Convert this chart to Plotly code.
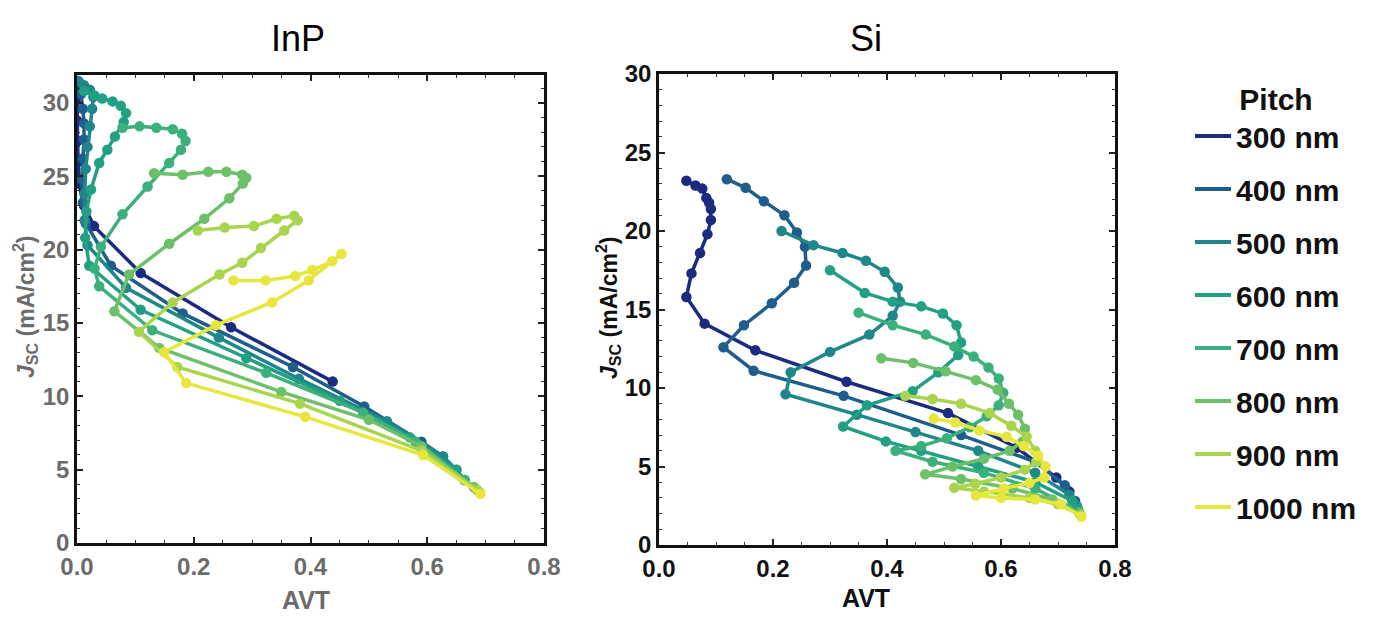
import plotly.graph_objects as go

pitches = ["300 nm", "400 nm", "500 nm", "600 nm", "700 nm", "800 nm", "900 nm", "1000 nm"]
colors = ["#1b2b80", "#1f5e8c", "#1f878a", "#22a083", "#3cb07c", "#6cc06a", "#a8d44e", "#e6e63c"]

# ---------------- InP (AVT, Jsc) ----------------
inp_300_x = [0.0, 0.0, 0.0, 0.001, 0.002, 0.003, 0.012, 0.029, 0.109, 0.264, 0.438]
inp_300_y = [31.3, 30.2, 28.8, 27.4, 26.0, 24.5, 23.0, 21.6, 18.4, 14.7, 11.0]

inp_400_x = [0.004, 0.007, 0.010, 0.012, 0.012, 0.010, 0.008, 0.010, 0.015, 0.058, 0.181, 0.370, 0.492, 0.590, 0.627]
inp_400_y = [31.4, 30.6, 29.6, 28.6, 27.5, 26.2, 24.8, 23.2, 21.8, 18.9, 15.65, 12.0, 9.3, 6.9, 5.9]

inp_500_x = [0.002, 0.012, 0.022, 0.028, 0.026, 0.022, 0.018, 0.015, 0.013, 0.013, 0.018, 0.084, 0.243, 0.380, 0.531, 0.627, 0.650]
inp_500_y = [31.5, 31.2, 30.9, 30.4, 29.6, 28.4, 27.0, 25.5, 23.8, 22.0, 20.3, 17.4, 14.0, 11.2, 8.3, 5.9, 5.0]

inp_600_x = [0.012, 0.030, 0.043, 0.061, 0.075, 0.084, 0.080, 0.065, 0.052, 0.038, 0.024, 0.016, 0.014, 0.021, 0.109, 0.290, 0.450, 0.570, 0.650, 0.664]
inp_600_y = [30.8, 30.5, 30.3, 30.1, 29.8, 29.3, 28.7, 27.7, 26.8, 25.9, 24.1, 22.6, 20.8, 18.9, 15.9, 12.6, 9.7, 7.2, 5.0, 4.3]

inp_700_x = [0.078, 0.107, 0.136, 0.164, 0.180, 0.186, 0.178, 0.158, 0.121, 0.078, 0.041, 0.030, 0.038, 0.129, 0.324, 0.490, 0.580, 0.664, 0.680]
inp_700_y = [28.3, 28.4, 28.3, 28.2, 27.9, 27.4, 26.8, 25.9, 24.3, 22.4, 20.2, 18.7, 17.5, 14.5, 11.6, 8.9, 6.9, 4.3, 3.8]

inp_800_x = [0.132, 0.181, 0.225, 0.256, 0.283, 0.290, 0.284, 0.261, 0.218, 0.158, 0.089, 0.064, 0.141, 0.350, 0.500, 0.590, 0.680, 0.686]
inp_800_y = [25.2, 25.1, 25.3, 25.3, 25.1, 24.9, 24.5, 23.5, 22.1, 20.4, 18.3, 15.8, 13.3, 10.3, 8.4, 6.6, 3.8, 3.6]

inp_900_x = [0.207, 0.253, 0.303, 0.342, 0.372, 0.378, 0.355, 0.315, 0.283, 0.244, 0.164, 0.106, 0.172, 0.382, 0.590, 0.686, 0.690]
inp_900_y = [21.3, 21.5, 21.6, 22.1, 22.3, 22.0, 21.3, 20.1, 19.1, 18.3, 16.4, 14.4, 12.0, 9.5, 6.3, 3.6, 3.45]

inp_1000_x = [0.268, 0.323, 0.374, 0.403, 0.437, 0.453, 0.397, 0.334, 0.238, 0.149, 0.187, 0.391, 0.593, 0.691]
inp_1000_y = [17.9, 17.9, 18.2, 18.6, 19.2, 19.7, 17.9, 16.4, 14.85, 13.0, 10.9, 8.6, 6.0, 3.35]

# ---------------- Si (AVT, Jsc) ----------------
si_300_x = [0.048, 0.064, 0.076, 0.083, 0.088, 0.091, 0.091, 0.085, 0.072, 0.057, 0.048, 0.080, 0.169, 0.329, 0.507, 0.628, 0.697, 0.720]
si_300_y = [23.2, 22.9, 22.7, 22.1, 21.8, 21.4, 20.7, 19.8, 18.6, 17.3, 15.8, 14.1, 12.4, 10.4, 8.4, 6.2, 4.3, 3.4]

si_400_x = [0.119, 0.152, 0.184, 0.220, 0.242, 0.256, 0.258, 0.237, 0.198, 0.149, 0.113, 0.166, 0.324, 0.530, 0.660, 0.712, 0.730]
si_400_y = [23.3, 22.75, 21.9, 21.0, 19.9, 19.0, 17.8, 16.7, 15.4, 14.0, 12.6, 11.1, 9.5, 7.0, 5.3, 3.8, 2.8]

si_500_x = [0.215, 0.271, 0.322, 0.363, 0.396, 0.419, 0.423, 0.410, 0.369, 0.300, 0.231, 0.222, 0.347, 0.450, 0.560, 0.660, 0.720, 0.733]
si_500_y = [20.0, 19.1, 18.6, 18.1, 17.4, 16.4, 15.5, 14.6, 13.4, 12.3, 11.0, 9.6, 8.3, 7.2, 6.0, 4.6, 3.2, 2.5]

si_600_x = [0.300, 0.361, 0.410, 0.460, 0.498, 0.522, 0.530, 0.525, 0.490, 0.445, 0.365, 0.323, 0.398, 0.460, 0.560, 0.660, 0.725, 0.735]
si_600_y = [17.5, 16.05, 15.5, 15.2, 14.75, 14.0, 12.9, 12.1, 11.0, 9.8, 8.9, 7.55, 6.6, 6.0, 5.0, 4.0, 2.8, 2.3]

si_700_x = [0.350, 0.410, 0.468, 0.518, 0.552, 0.578, 0.596, 0.604, 0.596, 0.575, 0.545, 0.505, 0.460, 0.415, 0.480, 0.570, 0.660, 0.737]
si_700_y = [14.8, 14.0, 13.4, 12.65, 12.0, 11.3, 10.6, 9.7, 8.9, 8.2, 7.5, 6.8, 6.3, 6.0, 5.3, 4.6, 3.6, 2.1]

si_800_x = [0.390, 0.446, 0.503, 0.556, 0.594, 0.614, 0.630, 0.642, 0.638, 0.615, 0.570, 0.515, 0.467, 0.530, 0.620, 0.690, 0.738]
si_800_y = [11.9, 11.6, 11.06, 10.5, 9.9, 9.0, 8.3, 7.4, 6.6, 6.0, 5.5, 5.0, 4.5, 4.2, 3.6, 2.9, 2.0]

si_900_x = [0.432, 0.480, 0.530, 0.580, 0.618, 0.645, 0.660, 0.662, 0.642, 0.600, 0.555, 0.518, 0.570, 0.650, 0.700, 0.740]
si_900_y = [9.5, 9.3, 9.0, 8.4, 7.6, 6.9, 6.0, 5.3, 4.8, 4.3, 3.9, 3.65, 3.4, 3.0, 2.6, 1.9]

si_1000_x = [0.482, 0.520, 0.562, 0.610, 0.640, 0.665, 0.678, 0.676, 0.650, 0.605, 0.556, 0.600, 0.660, 0.705, 0.741]
si_1000_y = [8.05, 7.8, 7.3, 6.9, 6.3, 5.7, 5.0, 4.3, 3.95, 3.6, 3.15, 3.0, 2.9, 2.6, 1.8]

inp_x = [inp_300_x, inp_400_x, inp_500_x, inp_600_x, inp_700_x, inp_800_x, inp_900_x, inp_1000_x]
inp_y = [inp_300_y, inp_400_y, inp_500_y, inp_600_y, inp_700_y, inp_800_y, inp_900_y, inp_1000_y]
si_x = [si_300_x, si_400_x, si_500_x, si_600_x, si_700_x, si_800_x, si_900_x, si_1000_x]
si_y = [si_300_y, si_400_y, si_500_y, si_600_y, si_700_y, si_800_y, si_900_y, si_1000_y]

x_ticks = [0.0, 0.2, 0.4, 0.6, 0.8]
x_ticktext = ["0.0", "0.2", "0.4", "0.6", "0.8"]
y_ticks = [0, 5, 10, 15, 20, 25, 30]
y_ticktext = ["0", "5", "10", "15", "20", "25", "30"]

FONT = "Arial, Liberation Sans, sans-serif"

fig = go.Figure()

for i, name in enumerate(pitches):
    fig.add_trace(go.Scatter(
        x=inp_x[i], y=inp_y[i], mode="lines+markers", xaxis="x", yaxis="y",
        line=dict(color=colors[i], width=3.5), marker=dict(color=colors[i], size=10.5),
        showlegend=False, name=name))
for i, name in enumerate(pitches):
    fig.add_trace(go.Scatter(
        x=si_x[i], y=si_y[i], mode="lines+markers", xaxis="x2", yaxis="y2",
        line=dict(color=colors[i], width=3.5), marker=dict(color=colors[i], size=10.5),
        showlegend=False, name=name))
# legend entries (line only, like the reference key)
for i, name in enumerate(pitches):
    fig.add_trace(go.Scatter(
        x=[None], y=[None], mode="lines", xaxis="x2", yaxis="y2",
        line=dict(color=colors[i], width=4), name=name, legendgroup=name,
        showlegend=True))

# the page body adds an 8 px margin, so the figure is laid out in page px minus 8
OFF = 8
W, H = 1375 - OFF, 620 - OFF
L1, R1, T1, B1 = 77 - OFF, 544 - OFF, 75 - OFF, 543 - OFF
L2, R2, T2, B2 = 659 - OFF, 1115 - OFF, 74 - OFF, 545 - OFF

def ax(col, dom, rng, tv, tt, minor_d, anchor):
    return dict(
        domain=dom, range=rng, tickvals=tv, ticktext=tt, anchor=anchor,
        ticks="inside", ticklen=6, tickwidth=1.6, tickcolor="#222",
        minor=dict(ticks="inside", ticklen=3.5, tickwidth=1.2, tickcolor="#333", dtick=minor_d, tick0=0),
        showline=True, linewidth=2.5, linecolor="#111", mirror="ticks",
        showgrid=False, zeroline=False, automargin=False,
        tickfont=dict(family=FONT, size=24, color=col, weight="bold"),
        fixedrange=True,
    )

fig.update_layout(
    width=W, height=H,
    margin=dict(l=0, r=0, t=0, b=0, autoexpand=False),
    paper_bgcolor="white", plot_bgcolor="white",
    xaxis=ax("#6b6b6b", [L1 / W, R1 / W], [0, 0.8], x_ticks, x_ticktext, 0.05, "y"),
    yaxis=ax("#6b6b6b", [1 - B1 / H, 1 - T1 / H], [0, 31.9], y_ticks, y_ticktext, 1, "x"),
    xaxis2=ax("#111111", [L2 / W, R2 / W], [0, 0.8], x_ticks, x_ticktext, 0.05, "y2"),
    yaxis2=ax("#111111", [1 - B2 / H, 1 - T2 / H], [0, 30], y_ticks, y_ticktext, 1, "x2"),
    legend=dict(
        x=(1190 - OFF) / W, y=1 - (71 - OFF) / H, xanchor="left", yanchor="top",
        title=dict(text="Pitch", side="top center",
                   font=dict(family=FONT, size=30, color="#111", weight="bold")),
        font=dict(family=FONT, size=30, color="#111", weight="bold"),
        tracegroupgap=11, bgcolor="rgba(0,0,0,0)", itemwidth=36,
    ),
    font=dict(family=FONT),
)

ann = [
    dict(text="InP", x=(298 - OFF) / W, y=1 - (38 - OFF) / H, font=dict(size=36, color="#000")),
    dict(text="Si", x=(866 - OFF) / W, y=1 - (38 - OFF) / H, font=dict(size=36, color="#000")),
    dict(text="<b>AVT</b>", x=(306 - OFF) / W, y=1 - (600 - OFF) / H, font=dict(size=25, color="#6b6b6b")),
    dict(text="<b>AVT</b>", x=(866 - OFF) / W, y=1 - (598 - OFF) / H, font=dict(size=25, color="#111")),
    dict(text="<b><i>J</i><sub>SC</sub> (mA/cm<sup>2</sup>)</b>", x=(25 - OFF) / W, y=1 - (307 - OFF) / H,
         textangle=-90, font=dict(size=23, color="#6b6b6b")),
    dict(text="<b><i>J</i><sub>SC</sub> (mA/cm<sup>2</sup>)</b>", x=(608 - OFF) / W, y=1 - (308 - OFF) / H,
         textangle=-90, font=dict(size=23, color="#111")),
]
for a in ann:
    a.update(xref="paper", yref="paper", showarrow=False, xanchor="center", yanchor="middle")
    a["font"]["family"] = FONT
fig.update_layout(annotations=ann)

fig.write_html("out.html")
